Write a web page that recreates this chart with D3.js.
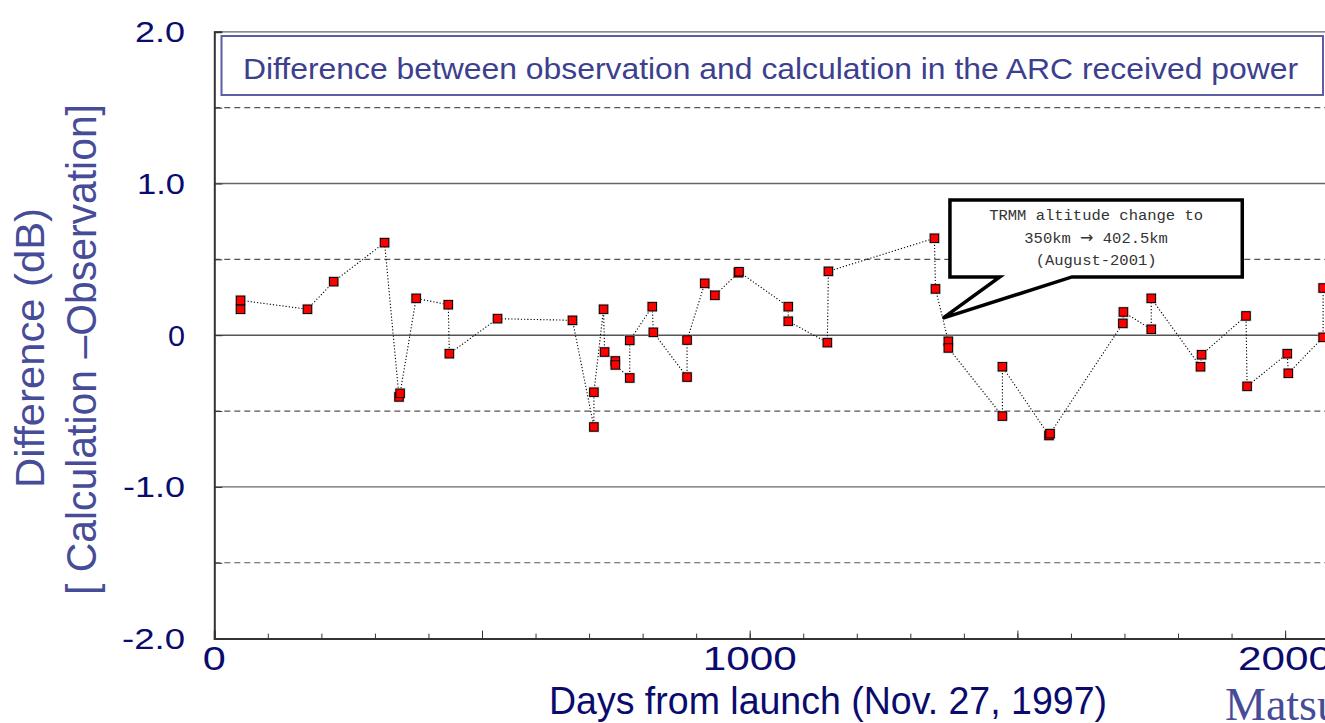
<!DOCTYPE html>
<html><head><meta charset="utf-8">
<script src="https://cdn.jsdelivr.net/npm/d3@7"></script>
<style>body{margin:0;background:#fff;overflow:hidden}</style>
</head><body><svg id="c" width="1325" height="723"></svg>
<script>
// ---- data ----
const days = [49,49,174,223,318,345,347,377,437,439,529,669,709,709,727,729,749,749,776,776,818,820,883,883,916,935,979,980,1072,1072,1145,1147,1345,1347,1371,1371,1472,1472,1559,1561,1697,1698,1750,1750,1842,1844,1927,1929,2004,2006,2071,2071];
const diffs = [0.171,0.230,0.171,0.353,0.610,-0.407,-0.383,0.243,0.201,-0.122,0.109,0.098,-0.605,-0.376,0.171,-0.111,-0.170,-0.196,-0.282,-0.034,0.188,0.019,-0.276,-0.032,0.342,0.263,0.412,0.418,0.188,0.092,-0.049,0.421,0.639,0.305,-0.040,-0.084,-0.533,-0.208,-0.661,-0.649,0.078,0.153,0.039,0.243,-0.208,-0.129,0.127,-0.337,-0.122,-0.251,-0.014,0.311];
const yTickValues = [2,1,0,-1,-2];
const yTickLabels = ["2.0","1.0","0","-1.0","-2.0"];
const xTickValues = [0,1000,2000];
const xTickLabels = ["0","1000","2000"];
const solidGrid = [2,1,-1];
const dashedGrid = [1.5,0.5,-0.5,-1.5];
const boxTitle = "Difference between observation and calculation in the ARC received power";
const xTitle = "Days from launch (Nov. 27, 1997)";
const yTitle1 = "Difference (dB)";
const yTitle2 = "[ Calculation \u2013Observation]";
const noteLines = [["TRMM altitude change to"],["350km ","\u2192"," 402.5km"],["(August-2001)"]];
// callout geometry in data units (day, dB)
const noteBoxDays = [1374, 1920];
const noteBoxVals = [0.891, 0.384];
const notePointerDays = [1467, 1602];
const noteTip = [1361, 0.113];
const noteTextVals = [0.759, 0.607, 0.463];

// ---- layout ----
const svg = d3.select("#c");
svg.append("rect").attr("width",1325).attr("height",723).attr("fill","#fff");
const x = d3.scaleLinear().domain([0,2200]).range([214.3, 214.3+2200*0.5354]);
const y = d3.scaleLinear().domain([-2,2]).range([638.6, 31.8]);
const navy = "#0b0b6e", blue = "#474c98";

// grid
svg.append("g").selectAll("line").data(solidGrid).join("line")
  .attr("x1",x(0)).attr("x2",1325).attr("y1",d=>y(d)).attr("y2",d=>y(d))
  .attr("stroke","#666").attr("stroke-width",1.3);
svg.append("line").attr("x1",x(0)).attr("x2",1325).attr("y1",y(0)).attr("y2",y(0))
  .attr("stroke","#555").attr("stroke-width",1.5);
svg.append("g").selectAll("line").data(dashedGrid).join("line")
  .attr("x1",x(0)).attr("x2",1325).attr("y1",d=>y(d)).attr("y2",d=>y(d))
  .attr("stroke","#555").attr("stroke-width",1.2).attr("stroke-dasharray","6,4");

// axes
const xMajor = d3.axisBottom(x).tickValues(d3.range(0,2201,500)).tickSize(-8).tickFormat("");
const xMinor = d3.axisBottom(x).tickValues(d3.range(0,2201,100)).tickSize(-5).tickFormat("");
const gx1 = svg.append("g").attr("transform",`translate(0,${y(-2)})`).call(xMinor);
const gx2 = svg.append("g").attr("transform",`translate(0,${y(-2)})`).call(xMajor);
[gx1,gx2].forEach(g=>{g.selectAll("line").attr("stroke","#333").attr("stroke-width",1);});
gx1.select(".domain").remove();
gx2.select(".domain").attr("stroke","#333").attr("stroke-width",2);
const yAx = d3.axisLeft(y).tickValues(d3.range(-2,2.01,0.5)).tickSize(-8).tickFormat("");
const gy = svg.append("g").attr("transform",`translate(${x(0)},0)`).call(yAx);
gy.selectAll("line").attr("stroke","#333");
gy.select(".domain").attr("stroke","#333").attr("stroke-width",2);

// title box
svg.append("rect").attr("x",221.5).attr("y",36).attr("width",1101.5).attr("height",59)
  .attr("fill","#fff").attr("stroke","#5b5fa3").attr("stroke-width",2);
svg.append("text").attr("x",243).attr("y",78.5).text(boxTitle)
  .attr("font-family","Liberation Sans, Arial, sans-serif").attr("font-size",30)
  .attr("fill","#3c408e").attr("textLength",1055).attr("lengthAdjust","spacingAndGlyphs");

// y tick labels
const yLabW = {"2.0":50,"1.0":48,"0":17,"-1.0":62,"-2.0":63};
svg.append("g").selectAll("text").data(yTickValues).join("text")
  .attr("x",185).attr("y",d=>y(d)+10.5).attr("text-anchor","end")
  .text((d,i)=>yTickLabels[i])
  .attr("textLength",(d,i)=>yLabW[yTickLabels[i]]).attr("lengthAdjust","spacingAndGlyphs")
  .attr("font-family","Liberation Sans, Arial, sans-serif").attr("font-size",29).attr("fill",navy);

// x tick labels
const xLabW = {"0":23,"1000":94,"2000":94};
svg.append("g").selectAll("text").data(xTickValues).join("text")
  .attr("x",d=>x(d)).attr("y",670).attr("text-anchor","middle")
  .text((d,i)=>xTickLabels[i])
  .attr("textLength",(d,i)=>xLabW[xTickLabels[i]]).attr("lengthAdjust","spacingAndGlyphs")
  .attr("font-family","Liberation Sans, Arial, sans-serif").attr("font-size",33).attr("fill",navy);

// x title
svg.append("text").attr("x",549).attr("y",714).text(xTitle)
  .attr("textLength",558).attr("lengthAdjust","spacingAndGlyphs")
  .attr("font-family","Liberation Sans, Arial, sans-serif").attr("font-size",38).attr("fill",navy);

// y titles
svg.append("text").attr("transform","translate(44,348) rotate(-90)").attr("text-anchor","middle")
  .text(yTitle1).attr("textLength",280).attr("lengthAdjust","spacingAndGlyphs")
  .attr("font-family","Liberation Sans, Arial, sans-serif").attr("font-size",40).attr("fill",blue);
svg.append("text").attr("transform","translate(96,349.5) rotate(-90)").attr("text-anchor","middle")
  .text(yTitle2).attr("textLength",491).attr("lengthAdjust","spacingAndGlyphs")
  .attr("font-family","Liberation Sans, Arial, sans-serif").attr("font-size",42).attr("fill",blue);

// author text
svg.append("text").attr("x",1225).attr("y",720).text("Matsu")
  .attr("font-family","Liberation Serif, Times New Roman, serif").attr("font-size",46).attr("fill",blue);

// data line
const pts = days.map((d,i)=>[d,diffs[i]]);
svg.append("path").datum(pts)
  .attr("d",d3.line().x(d=>x(d[0])).y(d=>y(d[1])))
  .attr("fill","none").attr("stroke","#000").attr("stroke-width",1.1).attr("stroke-dasharray","1.2,2");

// callout
const cp = d3.path();
cp.moveTo(x(noteBoxDays[0]),y(noteBoxVals[0]));
cp.lineTo(x(noteBoxDays[1]),y(noteBoxVals[0]));
cp.lineTo(x(noteBoxDays[1]),y(noteBoxVals[1]));
cp.lineTo(x(notePointerDays[1]),y(noteBoxVals[1]));
cp.lineTo(x(noteTip[0]),y(noteTip[1]));
cp.lineTo(x(notePointerDays[0]),y(noteBoxVals[1]));
cp.lineTo(x(noteBoxDays[0]),y(noteBoxVals[1]));
cp.closePath();
svg.append("path").attr("d",cp.toString()).attr("fill","#fff").attr("stroke","#000")
  .attr("stroke-width",3.5).attr("stroke-linejoin","miter");
const ncx = (x(noteBoxDays[0])+x(noteBoxDays[1]))/2;
const nt = svg.append("g").selectAll("text").data(noteLines).join("text")
  .attr("x",ncx).attr("y",(d,i)=>y(noteTextVals[i])).attr("text-anchor","middle")
  .attr("font-family","Liberation Mono, DejaVu Sans Mono, monospace").attr("font-size",15.5).attr("fill","#333");
nt.selectAll("tspan").data(d=>d).join("tspan").text(d=>d)
  .attr("font-family",d=>d==="\u2192"?"DejaVu Sans, sans-serif":null)
  .attr("font-size",d=>d==="\u2192"?16:null);

// markers
const mk = svg.append("g");
mk.selectAll("rect.h").data(pts).join("rect").attr("class","h")
  .attr("x",d=>x(d[0])-5.5).attr("y",d=>y(d[1])-5.5).attr("width",11).attr("height",11)
  .attr("fill","#bbb").attr("opacity",0.55);
mk.selectAll("rect.m").data(pts).join("rect").attr("class","m")
  .attr("x",d=>x(d[0])-4.25).attr("y",d=>y(d[1])-4.25).attr("width",8.5).attr("height",8.5)
  .attr("fill","#ff0000").attr("stroke","#000").attr("stroke-width",1);
</script></body></html>
